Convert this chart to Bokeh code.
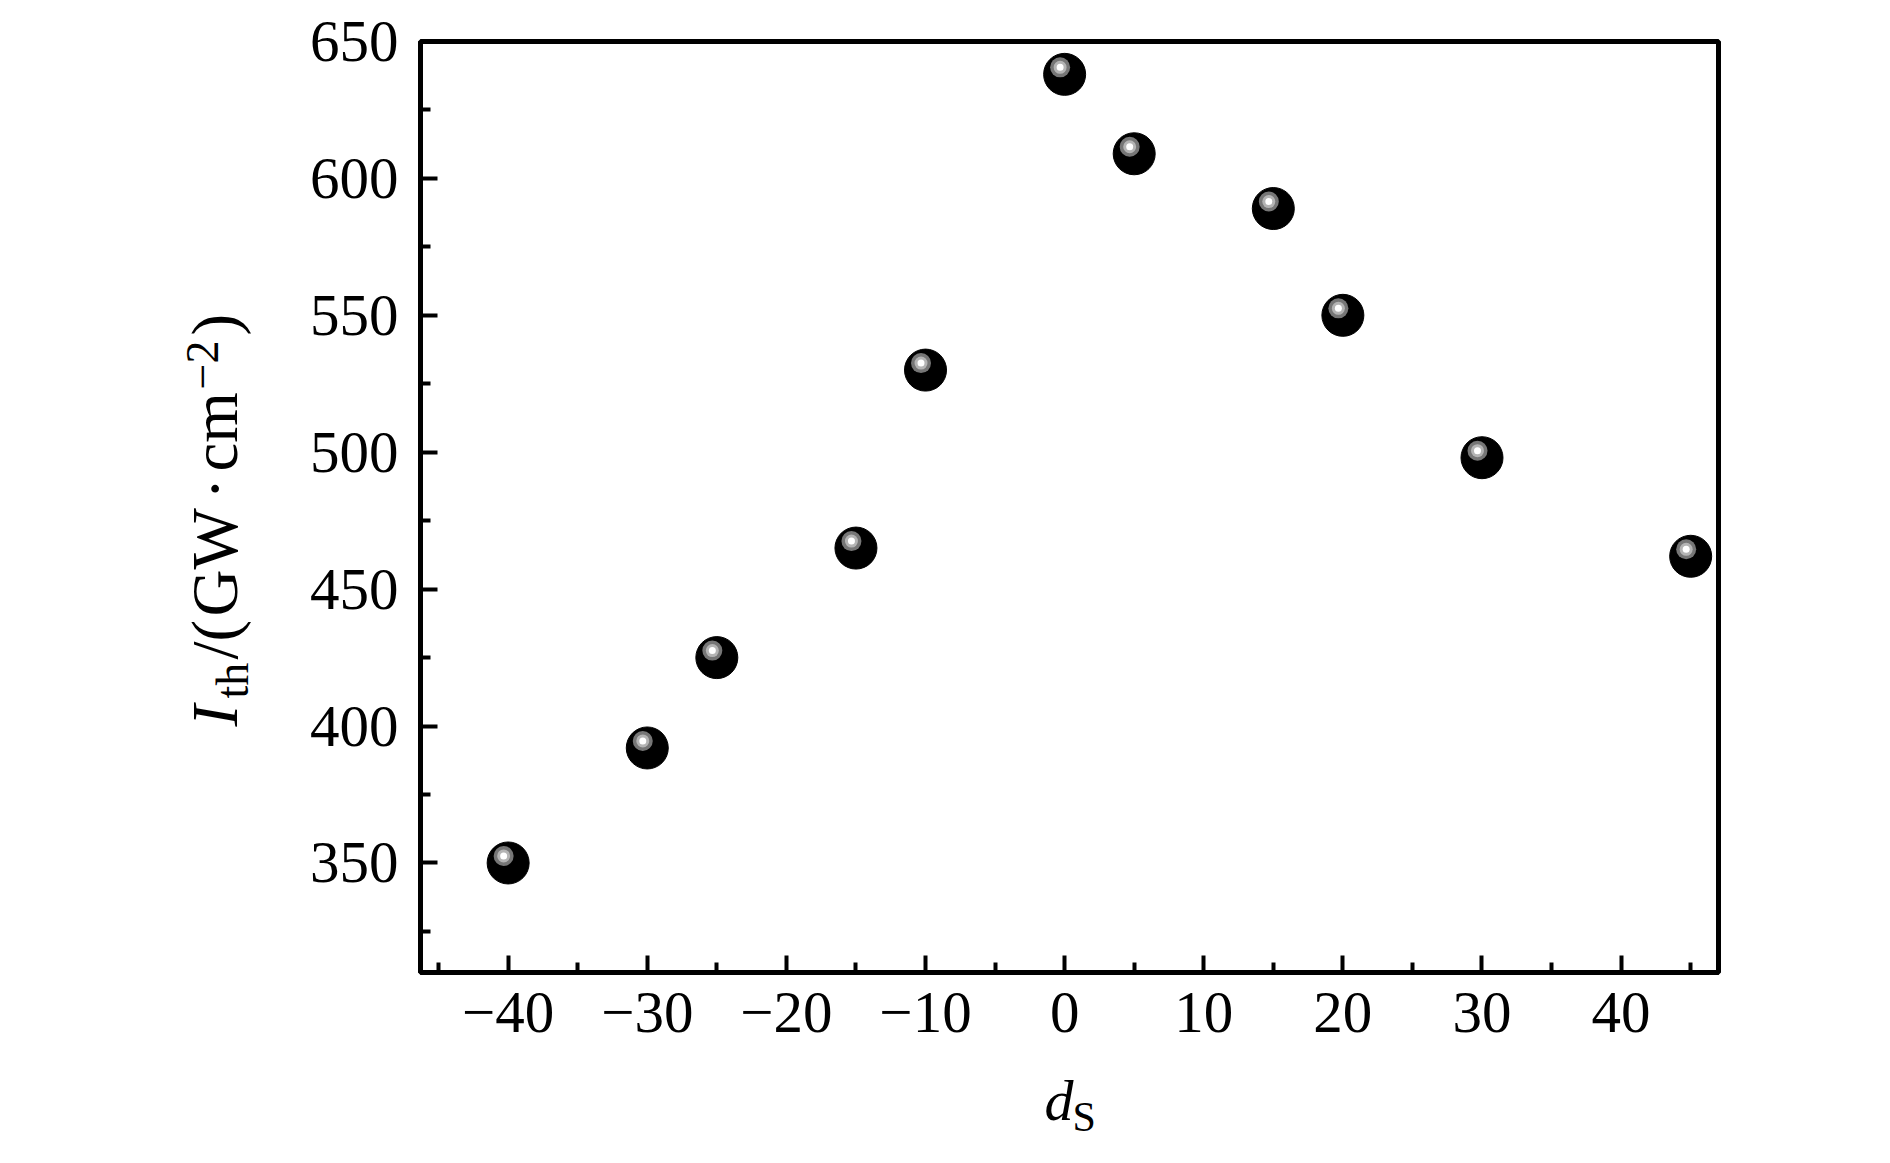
import math
from bokeh.plotting import figure
from bokeh.models import Label, FixedTicker, Range1d, ColumnDataSource
from bokeh.layouts import row, column
from bokeh.embed import file_html
from bokeh.resources import INLINE

# ---------------- data ----------------
d_s = [-40, -30, -25, -15, -10, 0, 5, 15, 20, 30, 45]
i_th = [350, 392, 425, 465, 530, 638, 609, 589, 550, 498, 462]

x_ticks = [-40, -30, -20, -10, 0, 10, 20, 30, 40]
x_tick_labels = ["\u221240", "\u221230", "\u221220", "\u221210", "0", "10", "20", "30", "40"]
x_minor = [-45, -35, -25, -15, -5, 5, 15, 25, 35, 45]
y_ticks = [350, 400, 450, 500, 550, 600, 650]
y_tick_labels = ["350", "400", "450", "500", "550", "600", "650"]
y_minor = [325, 375, 425, 475, 525, 575, 625]

# ---------------- layout ----------------
FONT = "Liberation Serif"
O = 1                                     # page offset of the layout
TW, TH = 1874, 1154                       # total size
LW = 290                                  # left title strip width
MH = 1062                                 # main figure height
MW = TW - LW
BH = TH - MH
FL, FR, FT, FB = 421, 1719, 42, 973       # frame edges in page px
X0, X1 = -46.3, 47.0
Y0, Y1 = 310, 650
PPX = (FR - FL) / (X1 - X0)
PPY = (FB - FT) / (Y1 - Y0)
BT = FT - O                               # top border of the row
BB = MH - (FB - O)                        # bottom border of the row
K = 0.41                                  # baseline correction (fraction of font size)

p = figure(width=MW, height=MH, output_backend="svg", toolbar_location=None,
           x_range=Range1d(X0, X1), y_range=Range1d(Y0, Y1),
           min_border_left=FL - O - LW, min_border_right=MW - (FR - O - LW),
           min_border_top=BT, min_border_bottom=BB)
p.background_fill_color = "white"
p.border_fill_color = "white"
p.grid.visible = False
p.outline_line_color = "black"
p.outline_line_width = 5

for ax in (p.xaxis[0], p.yaxis[0]):
    ax.axis_line_width = 5
    ax.axis_line_color = "black"
    ax.major_tick_line_width = 4
    ax.minor_tick_line_width = 4
    ax.major_tick_out = 0
    ax.minor_tick_out = 0
    ax.major_tick_in = 17
    ax.minor_tick_in = 10
    ax.major_label_text_font = FONT
    ax.major_label_text_font_size = "59px"
    ax.major_label_text_color = "black"

p.xaxis[0].ticker = FixedTicker(ticks=x_ticks, minor_ticks=x_minor)
p.xaxis[0].major_label_overrides = {t: l for t, l in zip(x_ticks, x_tick_labels)}
p.xaxis[0].major_label_standoff = 20
p.yaxis[0].ticker = FixedTicker(ticks=y_ticks, minor_ticks=y_minor)
p.yaxis[0].major_label_overrides = {t: l for t, l in zip(y_ticks, y_tick_labels)}
p.yaxis[0].major_label_standoff = 22

# ---------------- markers (shaded spheres) ----------------
src = ColumnDataSource(dict(x=d_s, y=i_th))
p.scatter("x", "y", source=src, size=42, fill_color="black", line_color="black")
hl_dx = -4.5 / PPX
hl_dy = 7.0 / PPY
hsrc = ColumnDataSource(dict(x=[v + hl_dx for v in d_s], y=[v + hl_dy for v in i_th]))
p.scatter("x", "y", source=hsrc, size=20, fill_color="#767676", line_color=None)
p.scatter("x", "y", source=hsrc, size=13, fill_color="#b4b4b4", line_color=None)
p.scatter("x", "y", source=hsrc, size=7, fill_color="white", line_color=None)


# ---------------- title strips (composed math-like titles) ----------------
def strip(w, h, top=0, bot=0, y_top=0.0, y_bot=None):
    f = figure(width=w, height=h, output_backend="svg", toolbar_location=None,
               x_range=Range1d(0, w),
               y_range=Range1d(h if y_bot is None else y_bot, y_top),
               x_axis_location=None, y_axis_location=None,
               min_border=0, min_border_left=0, min_border_right=0,
               min_border_top=top, min_border_bottom=bot)
    f.grid.visible = False
    f.outline_line_color = None
    f.background_fill_color = "white"
    f.border_fill_color = "white"
    return f


# left strip shares the row's borders, its frame maps page y directly
left = strip(LW, MH, top=BT, bot=BB, y_top=FT - O, y_bot=FB - O)
bottom = strip(TW, BH)


def lab(fig, ox, oy, text, px, py, size, angle=0.0, italic=False):
    fig.add_layout(Label(x=px - ox, y=py - oy, text=text, angle=angle,
                         text_font=FONT, text_font_size=f"{size}px",
                         text_font_style="italic" if italic else "normal",
                         text_color="black", text_align="left",
                         text_baseline="alphabetic"))


# x title: d_S   (px = start, py = baseline)
lab(bottom, O, O + MH, "d", 1045, 1125 - K * 58, 58, italic=True)
lab(bottom, O, O + MH, "S", 1073, 1135 - K * 42, 42)

# y title: I_th/(GW·cm^-2), rotated; px = baseline, py = start
A = math.pi / 2
BX = 242
S1, S2 = 65, 46


def ylab(text, base, start, size, italic=False):
    lab(left, O, O, text, base - K * size, start, size, A, italic)


ylab("I", BX, 727, S1, italic=True)
ylab("th", BX + 10, 699, S2)
ylab("/(", BX, 660, S1)
ylab("GW", BX, 617, S1)
ylab("\u00b7", BX, 500, S1)
ylab("cm", BX, 472, S1)
ylab("\u22122", BX - 20, 390, S2)
ylab(")", BX, 336, S1)

layout = column(row(left, p), bottom)
open("out.html", "w").write(file_html(layout, INLINE))
